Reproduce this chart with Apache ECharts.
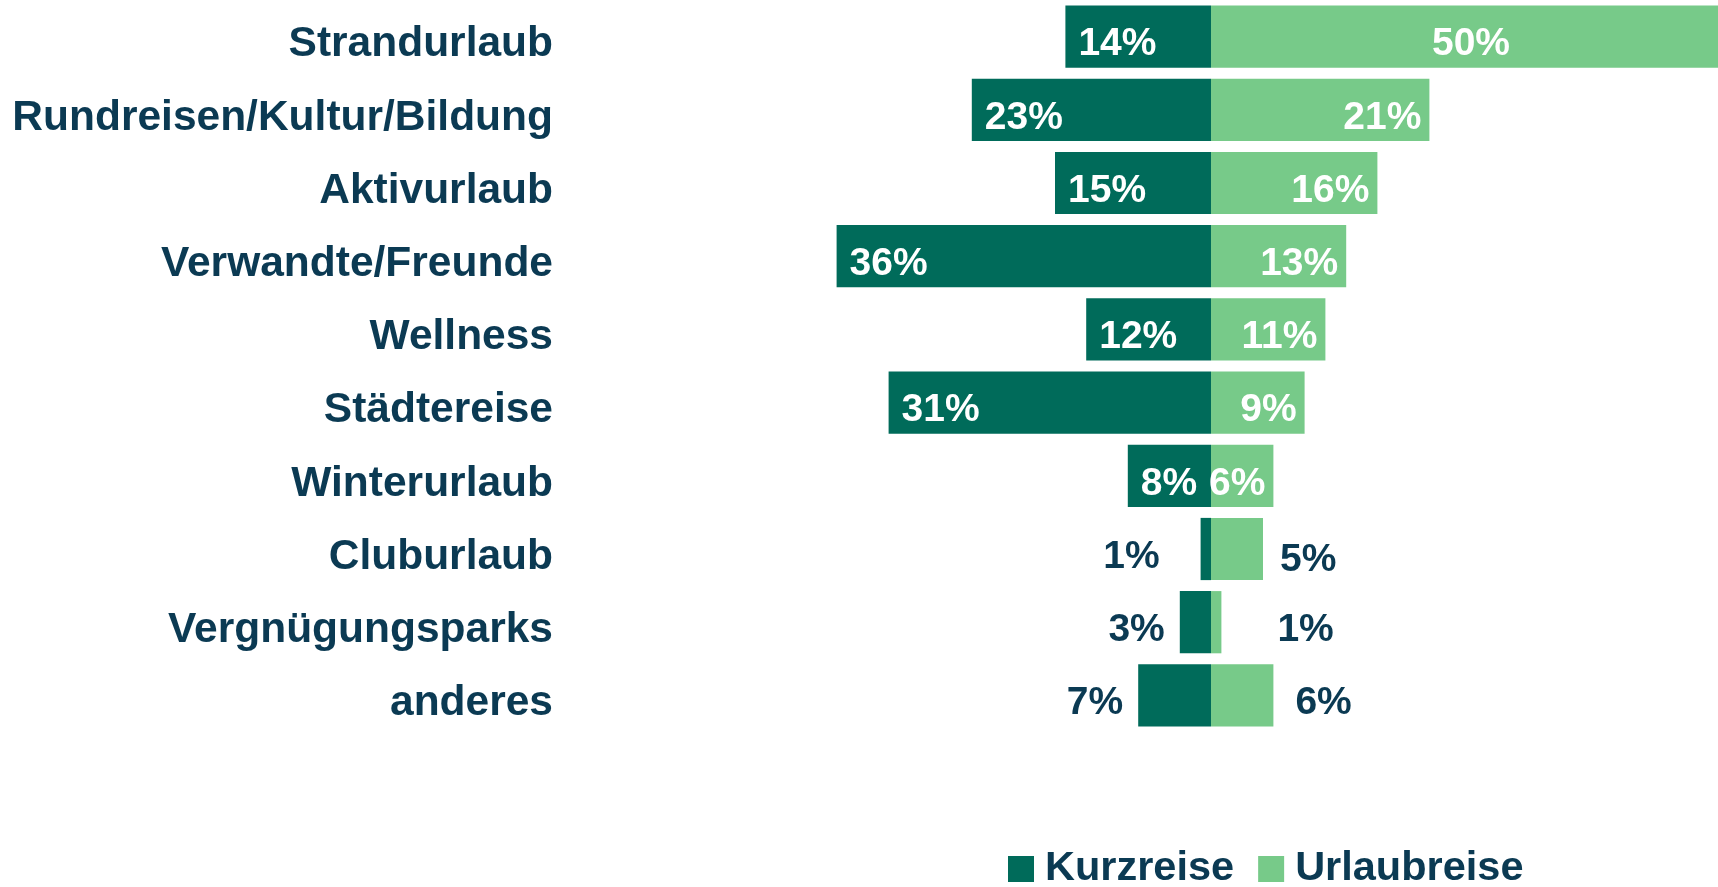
<!DOCTYPE html>
<html>
<head>
<meta charset="utf-8">
<style>
  html, body { margin: 0; padding: 0; background: #fff; }
  #chart { width: 1718px; height: 887px; }
</style>
<script src="https://cdn.jsdelivr.net/npm/echarts@6/dist/echarts.min.js"></script>
</head>
<body>
<div id="chart"></div>
<script>
var categories = ['Strandurlaub', 'Rundreisen/Kultur/Bildung', 'Aktivurlaub', 'Verwandte/Freunde',
  'Wellness', 'Städtereise', 'Winterurlaub', 'Cluburlaub', 'Vergnügungsparks', 'anderes'];
var kurzreise = [14, 23, 15, 36, 12, 31, 8, 1, 3, 7];
var urlaubreise = [50, 21, 16, 13, 11, 9, 6, 5, 1, 6];
var seriesNames = ['Kurzreise', 'Urlaubreise'];

var navy = '#0b3a53';
var darkGreen = '#006b5a';
var lightGreen = '#77ca89';
var font = '"Liberation Sans", Arial, sans-serif';

// small bars get their label outside, in navy
var outsideKurz = { 7: 41, 8: 15, 9: 15 };
var outsideUrlaub = { 7: 17, 8: 56, 9: 22 };

function pct(p) { return Math.abs(p.value) + '%'; }

var kurzData = kurzreise.map(function (v, i) {
  var item = { value: -v };
  if (outsideKurz[i] !== undefined) {
    item.label = { position: 'left', distance: outsideKurz[i], color: navy };
  }
  return item;
});

var urlaubData = urlaubreise.map(function (v, i) {
  var item = { value: v };
  if (i === 0) {
    item.label = { position: 'inside' };
  }
  if (outsideUrlaub[i] !== undefined) {
    item.label = { position: 'right', distance: outsideUrlaub[i], color: navy };
  }
  if (i === 7) {
    item.label.offset = [0, 11];
  }
  return item;
});

var chart = echarts.init(document.getElementById('chart'));
chart.setOption({
  backgroundColor: '#fff',
  animation: false,
  grid: { left: 795, top: 0, width: 936, bottom: 155, outerBoundsMode: 'none' },
  legend: {
    data: seriesNames,
    left: 1008,
    top: 848,
    padding: 0,
    itemWidth: 26,
    itemHeight: 26,
    itemGap: 24,
    icon: 'rect',
    textStyle: { fontFamily: font, fontSize: 41.5, fontWeight: 'bold', color: navy, padding: [0, 0, 0, 6] }
  },
  xAxis: {
    type: 'value',
    min: -40,
    max: 50,
    show: false
  },
  yAxis: {
    type: 'category',
    data: categories,
    inverse: true,
    axisLine: { show: false },
    axisTick: { show: false },
    splitLine: { show: false },
    axisLabel: {
      margin: 242,
      verticalAlign: 'top',
      lineHeight: 16,
      fontFamily: font,
      fontSize: 42.5,
      fontWeight: 'bold',
      color: navy
    }
  },
  series: [{
    name: seriesNames[0],
    type: 'bar',
    barGap: '-100%',
    barCategoryGap: '15%',
    itemStyle: { color: darkGreen },
    label: {
      show: true,
      position: 'insideLeft',
      distance: 13,
      offset: [0, 8],
      formatter: pct,
      fontFamily: font,
      fontSize: 39,
      fontWeight: 'bold',
      color: '#fff'
    },
    data: kurzData
  }, {
    name: seriesNames[1],
    type: 'bar',
    barGap: '-100%',
    barCategoryGap: '15%',
    itemStyle: { color: lightGreen },
    label: {
      show: true,
      position: 'insideRight',
      distance: 8,
      offset: [0, 8],
      formatter: pct,
      fontFamily: font,
      fontSize: 39,
      fontWeight: 'bold',
      color: '#fff'
    },
    data: urlaubData
  }]
});
window.addEventListener('resize', function () {
  chart.resize();
});
</script>
</body>
</html>
